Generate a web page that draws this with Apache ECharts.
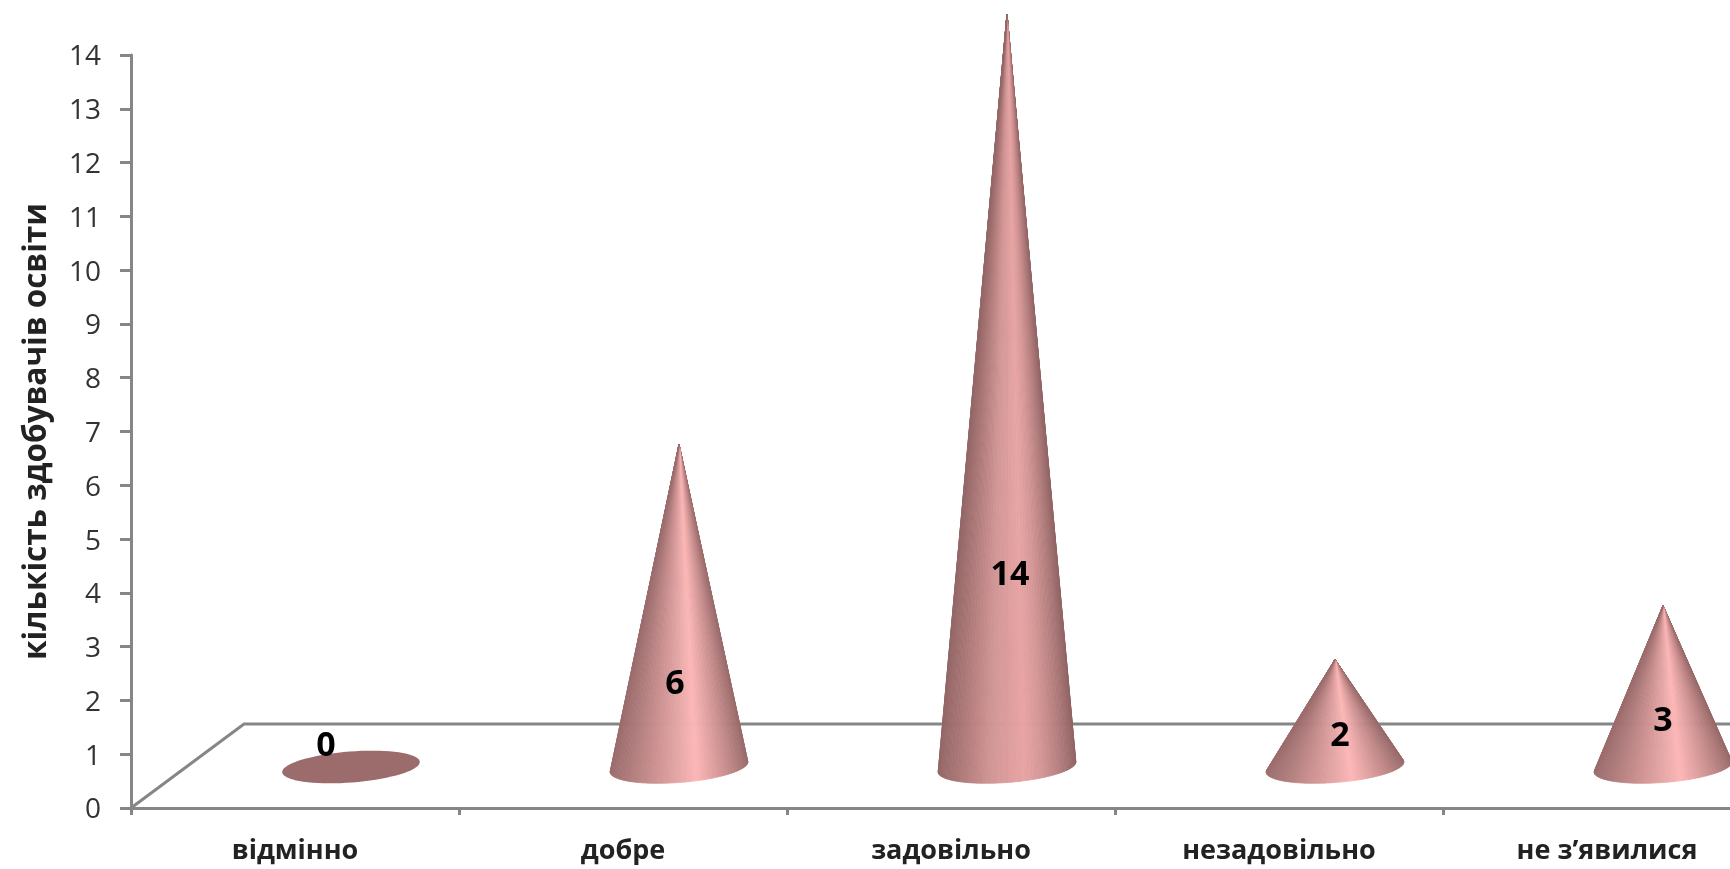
<!DOCTYPE html>
<html><head><meta charset="utf-8">
<style>html,body{margin:0;padding:0;background:#fff;overflow:hidden}#c{width:1730px;height:869px;filter:blur(0.6px)}</style>
<script src="https://cdn.jsdelivr.net/npm/echarts@6/dist/echarts.min.js"></script>
</head><body><div id="c"></div>
<script>
const categories = ['відмінно','добре','задовільно','незадовільно','не з’явилися'];
const counts = [0,6,14,2,3];
const yTickMax = 14;
const axisTitle = 'кількість здобувачів освіти';

// layout constants (pixels), separate from the data
const DEPTH = {x:56, y:-41};
const WALL = {x:113, y:-84};
const ELL = {a:69, b:15.5, tilt:-4.4*Math.PI/180};
const labelShift = [[-25,-21],[-4,-83],[3,-192],[5,-31],[0,-45.5]];
const FONT = '"Open Sans","Noto Sans",sans-serif';
const shade = ['#9c6c6c','#ad7a7a','#c28989','#d59898','#e6a8a8','#fdb6b6','#dfa0a0','#c08787','#996a6a'];
const shadeTall = ['#946767','#a87474','#bd8484','#d09595','#dd9c9c','#e8a4a4','#d49696','#b67f7f','#906363'];
const axisColor = '#868686';

function ellPoint(c,t){
  const ca=Math.cos(ELL.tilt), sa=Math.sin(ELL.tilt);
  const ex=ELL.a*Math.cos(t), ey=ELL.b*Math.sin(t);
  return [c[0]+ex*ca-ey*sa, c[1]+ex*sa+ey*ca];
}
function coneItem(params, api){
  const i = api.value(0), v = api.value(1);
  const p0 = api.coord([i,0]), pv = api.coord([i,v]);
  const c = [p0[0]+DEPTH.x, p0[1]+DEPTH.y];
  const apex = [c[0], c[1]-(p0[1]-pv[1])];
  const children = [];
  if (v>0){
    const ca=Math.cos(ELL.tilt), sa=Math.sin(ELL.tilt);
    const dx=apex[0]-c[0], dy=apex[1]-c[1];
    const px=(dx*ca+dy*sa)/ELL.a, py=(-dx*sa+dy*ca)/ELL.b;
    const r=Math.hypot(px,py), th=Math.atan2(py,px), d=Math.acos(1/r);
    let t1=th+d, t2=th-d+2*Math.PI; // arc through the visible lower side
    const N=90, stops = v>=10?shadeTall:shade;
    const xL=c[0]-ELL.a, xR=c[0]+ELL.a;
    for(let k=0;k<N;k++){
      const a=t1+(t2-t1)*k/N, b=t1+(t2-t1)*(k+1)/N;
      const A=ellPoint(c,a), B=ellPoint(c,b);
      const p=Math.min(1,Math.max(0,((A[0]+B[0])/2-xL)/(xR-xL)));
      const col=echarts.color.lerp(p,stops);
      children.push({type:'polygon',shape:{points:[apex,A,B]},style:{fill:col,stroke:col,lineWidth:0.7}});
    }
  } else {
    const pts=[];
    for(let k=0;k<72;k++)pts.push(ellPoint(c,k/72*2*Math.PI));
    children.push({type:'polygon',shape:{points:pts},style:{fill:'#9c6b6b'}});
  }
  const s=labelShift[i];
  children.push({type:'text',z2:50,style:{text:String(v),x:c[0]+s[0],y:c[1]+s[1],align:'center',verticalAlign:'middle',
    font:'bold 34px '+FONT,fill:'#000'}});
  return {type:'group',children};
}
function floorItem(params, api){
  const o=api.coord([0,0]);
  const left=o[0]-api.size([1,0])[0]/2;
  const a=[left,o[1]], b=[left+WALL.x,o[1]+WALL.y], e=[1800,o[1]+WALL.y];
  return {type:'polyline',shape:{points:[a,b,e]},style:{fill:null,stroke:axisColor,lineWidth:3}};
}
const chart = echarts.init(document.getElementById('c'),null,{renderer:'canvas'});
chart.setOption({
  animation:false,
  backgroundColor:'#fff',
  grid:{left:131,top:55,height:753,width:1640,containLabel:false,outerBoundsMode:'none'},
  xAxis:{type:'category',data:categories,offset:3,
    axisLine:{lineStyle:{color:axisColor,width:3}},
    axisTick:{show:true,length:7,alignWithLabel:false,lineStyle:{color:axisColor,width:3}},
    axisLabel:{interval:0,margin:27,color:'#222',fontFamily:FONT,fontWeight:'bold',fontSize:27,hideOverlap:false}},
  yAxis:{type:'value',min:0,max:yTickMax,interval:1,
    name:axisTitle,nameLocation:'middle',nameGap:78,nameRotate:90,
    nameTextStyle:{color:'#222',fontFamily:FONT,fontWeight:'bold',fontSize:31.5},
    axisLine:{show:true,lineStyle:{color:axisColor,width:3}},
    axisTick:{show:true,length:11,lineStyle:{color:axisColor,width:3}},
    axisLabel:{margin:30,formatter:'{n|{value}}',
      rich:{n:{color:'#333',fontFamily:FONT,fontSize:28,padding:[5,0,0,0]}}},
    splitLine:{show:false}},
  series:[
    {type:'custom',name:'floor',data:[[0,0]],encode:{x:0,y:1},clip:false,silent:true,z:1,renderItem:floorItem},
    {type:'custom',name:'кількість',data:counts.map((v,i)=>[i,v]),encode:{x:0,y:1},clip:false,z:5,renderItem:coneItem}
  ]
});
</script></body></html>
